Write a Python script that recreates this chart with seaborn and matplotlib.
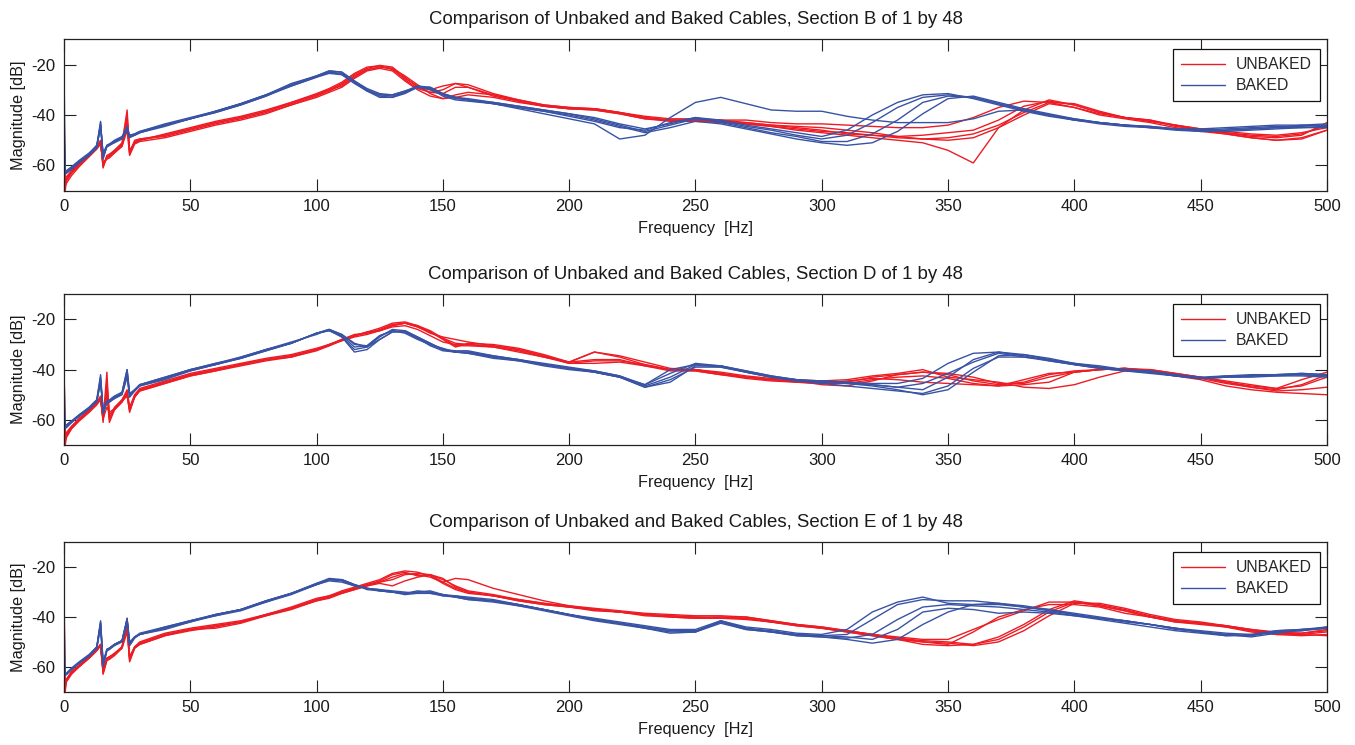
import numpy as np
import pandas as pd
import matplotlib
matplotlib.use("Agg")
import matplotlib.pyplot as plt
from matplotlib.lines import Line2D
import seaborn as sns

FREQ_HZ = [0, 0.5, 1, 3, 6, 10, 13, 14.5, 15.5, 17, 18, 20, 23, 25, 26, 28, 30,
           40, 50, 60, 70, 80, 90,
           100, 105, 110, 115, 120, 125, 130, 135, 140, 145, 150, 155, 160,
           170, 180, 190, 200, 210, 220, 230, 240, 250, 260, 270, 280, 290, 300,
           310, 320, 330, 340, 350, 360, 370, 380, 390, 400,
           410, 420, 430, 440, 450, 460, 470, 480, 490, 500]

SECTIONS = ["B", "D", "E"]
GROUPS = ["UNBAKED", "BAKED"]
X_TICKS = [0, 50, 100, 150, 200, 250, 300, 350, 400, 450, 500]
Y_TICKS = [-60, -40, -20]

# ---------------- Section B ----------------
B_UNBAKED = [
    [-36, -64, -64.5, -62, -59, -55.5, -52.5, -50, -61, -56, -55.5, -54, -51.5, -38, -55, -50, -49.5,
     -48, -45.5, -43, -41, -38.5, -35.5,
     -32, -30, -27.5, -24, -21.5, -20.3, -21, -25, -29, -31, -30, -27.5, -28,
     -31.5, -34, -36, -37, -37.5, -39, -41, -42, -42, -42, -43, -44, -44.5, -45,
     -46, -47, -48.5, -49.5, -50, -49, -45, -38, -34, -36,
     -39, -41, -42, -44, -46, -47, -48.5, -49, -48, -43],
    [-62, -68, -67, -64, -60.5, -56.5, -53.5, -51.5, -59, -57, -56.5, -55, -52.5, -46, -56, -51.5, -50.5,
     -49, -46.5, -44, -42, -39.5, -36,
     -33, -31, -29, -25.5, -22.5, -21.5, -22.5, -26.5, -30, -32.5, -33.5, -33, -32,
     -33, -35, -36.5, -37.5, -38, -39.5, -41.5, -42, -42.5, -43, -43.5, -44.5, -46, -47,
     -48, -49, -50, -51, -54, -59, -45, -40, -35.5, -37,
     -40, -41.5, -43, -45, -46.5, -47.5, -49, -50, -49, -46],
    [-55, -70, -66, -63, -59.5, -56, -53, -51, -60, -56.5, -56, -54.5, -52, -42, -54, -51, -50,
     -47.5, -45, -42.5, -40.5, -38, -35,
     -31.5, -29.5, -27, -23.5, -21, -20.5, -22, -25.5, -28.5, -30, -28.5, -27.5, -29,
     -32.5, -34.5, -36.5, -37.5, -37.5, -39, -40.5, -41.5, -41.5, -42, -42, -43, -43.5, -43.5,
     -44, -44.5, -45, -45, -44, -41, -37, -34.5, -35, -37,
     -39.5, -41, -42.5, -44, -45.5, -46.5, -47.5, -48, -47, -45],
    [-50, -66, -65, -62.5, -59, -55.5, -52.5, -50.5, -60.5, -56.5, -56, -54, -51, -40, -55.5, -50.5, -49.5,
     -48.5, -46, -43.5, -41.5, -39, -36,
     -32.5, -30.5, -28, -24.5, -22, -21, -21.5, -24.5, -28, -31.5, -33.5, -32, -31,
     -32, -34, -36, -37, -37.5, -39, -41, -42, -42, -42.5, -43, -44, -45, -46,
     -47.5, -48, -48.5, -48, -47, -46, -42, -36.5, -34.5, -36,
     -39, -41, -42, -44.5, -46, -47.5, -49, -50, -49.5, -46],
    [-58, -67, -65.5, -63, -60, -56, -53, -51, -59.5, -57.5, -57, -55, -52, -44, -54, -51, -50,
     -48, -45.5, -43, -41, -38.5, -35,
     -32, -30, -28.5, -25, -22, -21, -21.5, -26, -29.5, -31, -31.5, -29, -29,
     -32, -34.5, -36.5, -37.5, -38, -39.5, -41.5, -42.5, -42.5, -42.5, -43.5, -44.5, -45.5, -46.5,
     -47, -48, -49, -49.5, -49, -47.5, -44, -39, -35, -35.5,
     -38.5, -41, -42.5, -44, -45.5, -47, -48, -48.5, -47.5, -44],
]
B_BAKED = [
    [-20, -62, -62.5, -61, -58.5, -55.5, -52.5, -43, -57, -52.5, -52, -50.5, -49, -45, -48.5, -48, -47,
     -44, -41.5, -39, -36, -32.5, -28.5,
     -25, -23, -23.5, -27, -30, -32, -32.5, -31, -29, -29.5, -32, -33.5, -34,
     -35, -36.5, -38, -39.5, -41.5, -44, -46.5, -44, -41.5, -42.5, -44.5, -46, -48, -49.5,
     -48, -43, -37, -33, -32, -33, -35.5, -38, -40, -42,
     -43, -44, -44.5, -45.5, -46, -45.5, -45, -44.5, -44.5, -44],
    [-45, -63, -63, -61, -58.5, -55.5, -52, -45, -55, -52, -51.5, -50.5, -49, -46, -48, -47.5, -46.5,
     -44, -41.5, -38.5, -35.5, -32, -28,
     -24.5, -22.5, -23, -26.5, -29.5, -31.5, -32, -30.5, -28.5, -29, -31.5, -33, -34,
     -35.5, -37.5, -39.5, -41.5, -43.5, -49.5, -48, -41, -35, -33, -35.5, -38, -38.5, -38.5,
     -40.5, -42, -43, -43, -43, -41.5, -38.5, -38, -40, -42,
     -43, -44, -45, -45.5, -46.5, -46, -45.5, -45, -45, -44.5],
    [-55, -63, -63, -61.5, -59, -56, -53, -44, -56, -52.5, -52, -51, -49.5, -46, -49, -48, -47,
     -44.5, -41.5, -39, -36, -32.5, -28,
     -24.5, -22.5, -23, -26.5, -30, -32.5, -33, -31, -28.5, -29.5, -32.5, -34, -34.5,
     -35.5, -37, -38.5, -40, -42, -44.5, -47, -45, -42.5, -43.5, -45.5, -47.5, -49.5, -51,
     -52, -51, -46.5, -39.5, -33.5, -32.5, -35, -37.5, -39.5, -41.5,
     -43, -44, -45, -46, -46.5, -46, -45.5, -45, -44, -43.5],
    [-50, -62.5, -62, -60.5, -58, -55, -52, -42.5, -57.5, -52, -51.5, -50, -48.5, -44.5, -48, -47.5, -46.5,
     -43.5, -41, -38.5, -35.5, -32, -28.5,
     -25, -23.5, -24, -27.5, -30.5, -32, -32, -30.5, -29, -30, -32, -33, -33.5,
     -35, -36.5, -38, -39.5, -41, -43.5, -45.5, -43.5, -41, -42, -44, -45.5, -47, -48.5,
     -46, -40, -35, -32, -31.5, -33.5, -36, -38.5, -40.5, -42,
     -43.5, -44.5, -45, -45.5, -45.5, -45, -44.5, -44, -44, -44.5],
    [-60, -63.5, -63, -61, -58.5, -55.5, -52.5, -44, -56.5, -52.5, -52, -50.5, -49, -45.5, -48.5, -48, -47,
     -44, -41.5, -38.5, -35.5, -32, -27.5,
     -24.5, -23, -24, -27, -30.5, -33, -33, -31.5, -29, -29, -31.5, -33, -34,
     -35.5, -37, -38.5, -40.5, -42.5, -45, -46, -43, -41, -43, -45, -47, -48.5, -50.5,
     -50.5, -47.5, -42, -35, -32.5, -33, -35.5, -38, -40, -41.5,
     -43, -44, -44.5, -45.5, -46, -46.5, -46, -45.5, -45, -45],
]

# ---------------- Section D ----------------
D_UNBAKED = [
    [-38, -65, -65, -62.5, -59.5, -56, -53, -51, -60, -41, -60, -55, -52, -49, -56, -50, -48,
     -45, -42, -40, -38, -36, -34.5,
     -32, -30.5, -28.5, -26.5, -25.5, -24.5, -22.5, -21.5, -23, -25.5, -27, -28, -29,
     -30.5, -32, -34.5, -37, -33, -35, -38, -40, -40, -41.5, -43, -44, -44.5, -45,
     -45, -43, -42, -41, -42, -44.5, -46, -45, -42, -40.5,
     -40, -39.5, -40.5, -42, -43.5, -45.5, -47, -48, -46, -42],
    [-62, -70, -67, -63.5, -60, -56.5, -53.5, -51.5, -59, -50, -61, -56, -52.5, -50, -57, -50.5, -48.5,
     -45.5, -42.5, -40.5, -38.5, -36.5, -35,
     -32.5, -30.5, -28, -26, -25.5, -24, -22, -21.5, -23, -25, -27.5, -29.5, -30,
     -31, -32.5, -35, -37.5, -36.5, -36.5, -38, -40, -40.5, -42, -43.5, -44.5, -45, -45.5,
     -44.5, -43.5, -44, -45, -45.5, -46, -46.5, -46, -45, -41,
     -40, -39.5, -41, -42.5, -44, -46.5, -48, -49, -49.5, -50],
    [-55, -66, -65.5, -63, -59.5, -56, -53, -50.5, -61, -45, -58, -55.5, -52, -48, -55, -50, -47.5,
     -44.5, -41.5, -39.5, -37.5, -35.5, -34,
     -31.5, -30, -28, -26.5, -25, -23.5, -21.5, -21, -22.5, -25, -28, -31, -29.5,
     -30, -31.5, -34, -37, -33, -34.5, -37, -39.5, -40, -41, -42.5, -43.5, -44, -44.5,
     -44, -42.5, -41.5, -40, -43, -44, -45, -47, -47.5, -46,
     -43, -40.5, -40, -41.5, -43, -45, -46.5, -47.5, -44, -41],
    [-60, -67, -66, -63, -60, -56.5, -53.5, -51.5, -59.5, -55, -57, -55.5, -52.5, -50.5, -56.5, -51, -48,
     -45, -42, -40, -38, -36, -35,
     -32, -30, -28, -26.5, -25, -24.5, -23, -22.5, -24, -26.5, -29, -30, -30,
     -30.5, -32, -34.5, -37.5, -37.5, -37, -38.5, -40, -40, -41.5, -43, -44, -45, -45.5,
     -45.5, -44, -43, -42.5, -43.5, -45.5, -46.5, -44, -41.5, -41,
     -40, -39.5, -40.5, -42, -43, -45, -47, -48.5, -48, -47],
    [-64, -68, -66.5, -63.5, -60.5, -57, -54, -52, -60, -48, -59, -56, -53, -49.5, -55, -51, -48.5,
     -45.5, -42.5, -40.5, -38, -36, -34.5,
     -32, -30, -28.5, -27, -26, -24.5, -22.5, -21.5, -22.5, -24.5, -27.5, -30.5, -30.5,
     -31, -33, -35, -37, -36, -36, -38.5, -40.5, -40.5, -42, -43, -44, -44.5, -46,
     -46.5, -44.5, -42, -41, -41.5, -43, -45.5, -45.5, -43, -41,
     -40, -39.5, -40, -41.5, -43, -44.5, -46, -47.5, -46.5, -43],
]
D_BAKED = [
    [-40, -62, -62, -60.5, -58, -55, -52, -43, -57, -53, -52.5, -51, -49, -40, -50, -48, -46,
     -43, -40, -37.5, -35.5, -32, -29.5,
     -25.5, -24.5, -26.5, -31, -30.5, -26.5, -24.5, -25, -27.5, -30, -32, -33, -33,
     -35, -36, -38, -39.5, -40.5, -42.5, -46.5, -43, -38, -38.5, -40.5, -42.5, -44, -44.5,
     -45, -46, -47, -48, -43, -36, -33, -34, -36, -37.5,
     -38.5, -40, -40.5, -42, -43, -42.5, -42.5, -42, -42, -42.5],
    [-55, -63, -62.5, -61, -58.5, -55.5, -52.5, -45, -56, -52.5, -52.5, -51, -49.5, -42, -50.5, -48, -46.5,
     -43.5, -40, -38, -35.5, -32.5, -29.5,
     -25.5, -24, -27, -32, -31, -27, -24, -24.5, -27, -29.5, -32, -33, -33,
     -34.5, -36, -38, -39.5, -41, -43, -47, -45, -38.5, -38.5, -40.5, -42.5, -44, -45,
     -45.5, -46.5, -48, -50, -48, -41, -34.5, -34, -35.5, -37.5,
     -39, -40, -41, -42, -43.5, -43, -42.5, -42.5, -42, -42.5],
    [-60, -63, -63, -61, -58.5, -55.5, -52.5, -44, -57.5, -53, -52.5, -51.5, -49.5, -41, -50, -48.5, -46,
     -43, -40, -37.5, -35, -32, -29.5,
     -25.5, -24, -26, -29.5, -31, -28, -25, -24.5, -27, -29.5, -32, -32.5, -32.5,
     -34.5, -36, -37.5, -39, -40.5, -42.5, -46, -41.5, -37.5, -38.5, -41, -43, -44.5, -44.5,
     -45, -45.5, -45.5, -43.5, -37.5, -33.5, -33, -34.5, -36.5, -38,
     -39, -40, -41, -42.5, -43.5, -43, -42.5, -42, -41.5, -42],
    [-58, -62.5, -62, -60.5, -58, -55, -52, -42, -57, -53, -52, -50.5, -49, -40, -49.5, -48, -46,
     -43.5, -40.5, -38, -35.5, -32.5, -29.5,
     -25.5, -24.5, -27, -33, -32, -28, -25, -25, -27.5, -30.5, -32.5, -33, -33.5,
     -35.5, -36.5, -38.5, -40, -41, -43, -47, -44, -39, -39, -41, -43, -44.5, -45.5,
     -46.5, -47.5, -48.5, -49.5, -46.5, -39.5, -35, -35, -36, -38,
     -39.5, -40.5, -41.5, -42.5, -43.5, -43, -43, -42.5, -42.5, -43],
    [-62, -63.5, -63, -61, -58.5, -55.5, -52.5, -44.5, -56.5, -53, -53, -51.5, -50, -43, -51, -48.5, -46.5,
     -44, -40.5, -38, -35, -32, -29,
     -26, -24, -26, -30, -30.5, -26.5, -24.5, -25.5, -28, -30, -31.5, -33, -33.5,
     -35, -36.5, -38, -39.5, -41, -43, -46, -40, -38, -39, -41, -43, -44, -45,
     -45.5, -46, -47, -45.5, -41.5, -37, -33.5, -35, -36.5, -38,
     -39.5, -40.5, -41, -42.5, -43.5, -42.5, -42, -42, -41.5, -42],
]

# ---------------- Section E ----------------
E_UNBAKED = [
    [-28, -66, -65, -62, -59.5, -56, -53, -51, -62, -57, -56, -55, -52, -42, -56, -52, -50.5,
     -47, -45, -43.5, -42, -39, -36.5,
     -33, -32, -30, -28.5, -27, -26, -24, -22.5, -23, -24, -26, -24.5, -25,
     -28.5, -31, -33.5, -35.5, -37, -38, -39, -39.5, -40, -40, -40, -41.5, -43, -44,
     -45.5, -47, -48.5, -49.5, -50, -51, -48, -43, -37, -33.5,
     -35, -37, -39.5, -41.5, -42.5, -43.5, -45.5, -47, -47.5, -47],
    [-60, -70, -66, -63, -60, -56.5, -53.5, -51.5, -63, -57.5, -57, -55.5, -52.5, -44, -58, -52.5, -51,
     -47.5, -45.5, -44, -42, -39.5, -37,
     -33.5, -32, -30.5, -29, -27.5, -26, -25, -23, -22.5, -23, -26, -28.5, -30,
     -31.5, -33.5, -35, -36, -37, -38, -39, -40, -40.5, -40, -40.5, -42, -43, -44.5,
     -46, -47.5, -49, -51, -51.5, -51, -49, -44, -38, -34,
     -35.5, -37.5, -40, -42, -43, -44, -46, -47, -47, -46],
    [-55, -68, -65.5, -62.5, -59.5, -56, -53, -51, -61, -56.5, -56, -54.5, -52, -40.5, -56, -52, -50,
     -46.5, -44.5, -43, -41.5, -39, -36,
     -32.5, -31.5, -30, -28.5, -27, -25.5, -23, -22, -23.5, -23, -25, -27.5, -29.5,
     -31, -33, -34.5, -35.5, -36.5, -37.5, -38.5, -39, -39.5, -39.5, -40, -41.5, -43, -44,
     -45.5, -47, -48, -49, -49, -45, -41, -37.5, -34, -34,
     -35.5, -37.5, -40, -42, -42.5, -43.5, -45, -46.5, -47, -47.5],
    [-64, -67, -65.5, -62.5, -60, -56.5, -53.5, -51.5, -62.5, -57, -56.5, -55, -52.5, -46, -57, -52.5, -51,
     -47.5, -45, -44.5, -42.5, -39.5, -36.5,
     -33.5, -32.5, -30.5, -29, -27.5, -26.5, -27.5, -25.5, -24, -23, -24.5, -28, -30,
     -31.5, -33.5, -35, -36, -37.5, -38, -39.5, -40, -40.5, -40.5, -41, -42, -43.5, -44.5,
     -46, -47.5, -49, -50, -50.5, -51.5, -50, -45.5, -39.5, -34.5,
     -34.5, -36.5, -39, -41, -42, -43.5, -45, -46, -46.5, -45.5],
    [-62, -66, -65, -62, -59.5, -56, -53, -51, -61.5, -56.5, -56, -55, -52, -43, -57.5, -52, -50.5,
     -47, -45, -43.5, -42, -39, -36.5,
     -33, -31.5, -29.5, -28, -26.5, -25, -22.5, -21.5, -22, -23.5, -26.5, -29, -30.5,
     -31.5, -33, -34.5, -36, -37, -38, -39, -39.5, -40, -40.5, -40.5, -42, -43.5, -44.5,
     -45.5, -47, -48.5, -50, -51, -46, -40, -37, -35, -35,
     -36, -38.5, -40, -41.5, -42.5, -44, -45.5, -46.5, -46.5, -45],
]
E_BAKED = [
    [-37, -63, -63, -61, -58.5, -55.5, -52, -42, -59, -53, -52.5, -51, -49.5, -41, -51, -48, -47,
     -44.5, -42, -39, -37, -34, -30.5,
     -26.5, -25, -25.5, -27.5, -28.5, -29.5, -30, -30.5, -30, -30, -31, -31.5, -32.5,
     -33.5, -35, -37, -39, -41, -42.5, -44, -45.5, -45.5, -42, -44.5, -45.5, -47, -47.5,
     -47, -41, -35, -33, -33.5, -33.5, -34.5, -36, -37.5, -39,
     -40.5, -41.5, -43, -45, -46, -47.5, -47.5, -45.5, -45, -44.5],
    [-58, -63.5, -63, -61, -58.5, -55.5, -52.5, -44, -60, -53.5, -53, -51.5, -50, -42, -50.5, -48, -47,
     -44.5, -41.5, -39, -37, -33.5, -30.5,
     -27, -25, -25, -27, -28.5, -29, -30, -30.5, -30, -29.5, -31, -32, -32.5,
     -33.5, -35.5, -37, -39, -41, -42.5, -44, -45.5, -46, -42.5, -45, -46, -47, -47.5,
     -48, -49, -45, -38, -36.5, -37, -38.5, -38, -38.5, -39.5,
     -40.5, -41.5, -43, -44.5, -46, -47, -47.5, -46, -45.5, -44.5],
    [-60, -63, -62.5, -60.5, -58, -55, -52, -41.5, -58, -53, -52.5, -51, -49.5, -40.5, -50, -48, -46.5,
     -44, -41.5, -39, -37, -33.5, -30.5,
     -27, -25, -25, -27, -28.5, -29.5, -30, -31, -30.5, -30.5, -31.5, -32, -33,
     -33.5, -35, -37, -39, -41, -42.5, -44.5, -46.5, -46, -41.5, -44.5, -46, -47.5, -48,
     -49, -50.5, -49, -43, -38, -35, -34.5, -35.5, -37, -39,
     -40.5, -42, -43, -44.5, -46, -47, -48, -46.5, -45, -44],
    [-62, -63, -63, -61, -58.5, -55.5, -52.5, -43, -59.5, -53.5, -53, -51, -49.5, -41.5, -51.5, -48.5, -47,
     -44, -41.5, -39.5, -37, -33.5, -30.5,
     -26.5, -24.5, -25, -27, -29, -29.5, -30, -30.5, -29.5, -30, -31.5, -31.5, -32,
     -33, -35, -37, -39, -40.5, -42, -43.5, -45, -45, -41.5, -44, -45, -46.5, -47,
     -45, -38, -34, -32, -34.5, -35, -35, -36, -37, -38.5,
     -40, -41.5, -43, -44.5, -45.5, -46.5, -47, -45.5, -45, -44.5],
    [-61, -63.5, -63, -61, -58.5, -55.5, -52, -42.5, -59, -53, -52.5, -51, -49.5, -41, -51, -48, -47,
     -45, -42, -39.5, -37.5, -34, -31,
     -27, -25.5, -26, -27.5, -28.5, -29, -29.5, -30, -30.5, -30.5, -31, -32, -33,
     -34, -35.5, -37.5, -39.5, -41.5, -43, -44.5, -46, -46, -42, -45, -46, -47.5, -48,
     -48.5, -47, -41, -36, -35, -35.5, -36, -37, -38, -39.5,
     -41, -42.5, -44, -45.5, -46.5, -47.5, -47, -46, -45.5, -44],
]

DATA = {"B": (B_UNBAKED, B_BAKED), "D": (D_UNBAKED, D_BAKED), "E": (E_UNBAKED, E_BAKED)}
COLORS = {"UNBAKED": "#ED1C24", "BAKED": "#3953A4"}

sns.set_style("ticks")
plt.rcParams["font.family"] = ["Liberation Sans", "DejaVu Sans"]
plt.rcParams["axes.unicode_minus"] = False

fig = plt.figure(figsize=(13.55, 7.45), dpi=100)
axes_pos = [(0.0472, 0.744, 0.9321, 0.2032),
            (0.0472, 0.4027, 0.9321, 0.2023),
            (0.0472, 0.0715, 0.9321, 0.2006)]

for sec, pos in zip(SECTIONS, axes_pos):
    ax = fig.add_axes(pos)
    rows = []
    for grp, traces in zip(GROUPS, DATA[sec]):
        for i, tr in enumerate(traces):
            assert len(tr) == len(FREQ_HZ)
            for f, v in zip(FREQ_HZ, tr):
                rows.append((f, v, grp, f"{grp}_{i}"))
    df = pd.DataFrame(rows, columns=["freq", "db", "condition", "trace"])
    sns.lineplot(data=df, x="freq", y="db", hue="condition", units="trace",
                 estimator=None, hue_order=GROUPS, palette=COLORS, sort=False,
                 linewidth=1.0, legend=False, ax=ax)
    ax.set_xlim(0, 500)
    ax.set_ylim(-70, -10)
    ax.set_xticks(X_TICKS)
    ax.set_yticks(Y_TICKS)
    ax.tick_params(direction="in", length=8.5, width=0.8, top=True, right=True,
                   labelsize=12, colors="#222222", labelcolor="#1a1a1a", pad=6)
    for sp in ax.spines.values():
        sp.set_visible(True)
        sp.set_linewidth(0.9)
        sp.set_color("#222222")
    ax.set_xlabel("Frequency  [Hz]", fontsize=11.7, labelpad=5, color="#1a1a1a")
    ax.set_ylabel("Magnitude [dB]", fontsize=11.7, labelpad=4, color="#1a1a1a")
    ax.set_title(f"Comparison of Unbaked and Baked Cables, Section {sec} of 1 by 48",
                 fontsize=13.4, pad=11, color="#1a1a1a")
    handles = [Line2D([], [], color=COLORS[g], lw=1.0) for g in GROUPS]
    leg = ax.legend(handles, GROUPS, loc="upper right",
                    bbox_to_anchor=(1 - 7 / 1263, 1 - 10 / 151), borderaxespad=0,
                    fontsize=11.3, frameon=True, fancybox=False, framealpha=1,
                    edgecolor="#111111", handlelength=2.8, borderpad=0.5,
                    labelspacing=0.4, handletextpad=0.7)
    leg.get_frame().set_linewidth(0.9)

fig.savefig("out.png", dpi=100)
